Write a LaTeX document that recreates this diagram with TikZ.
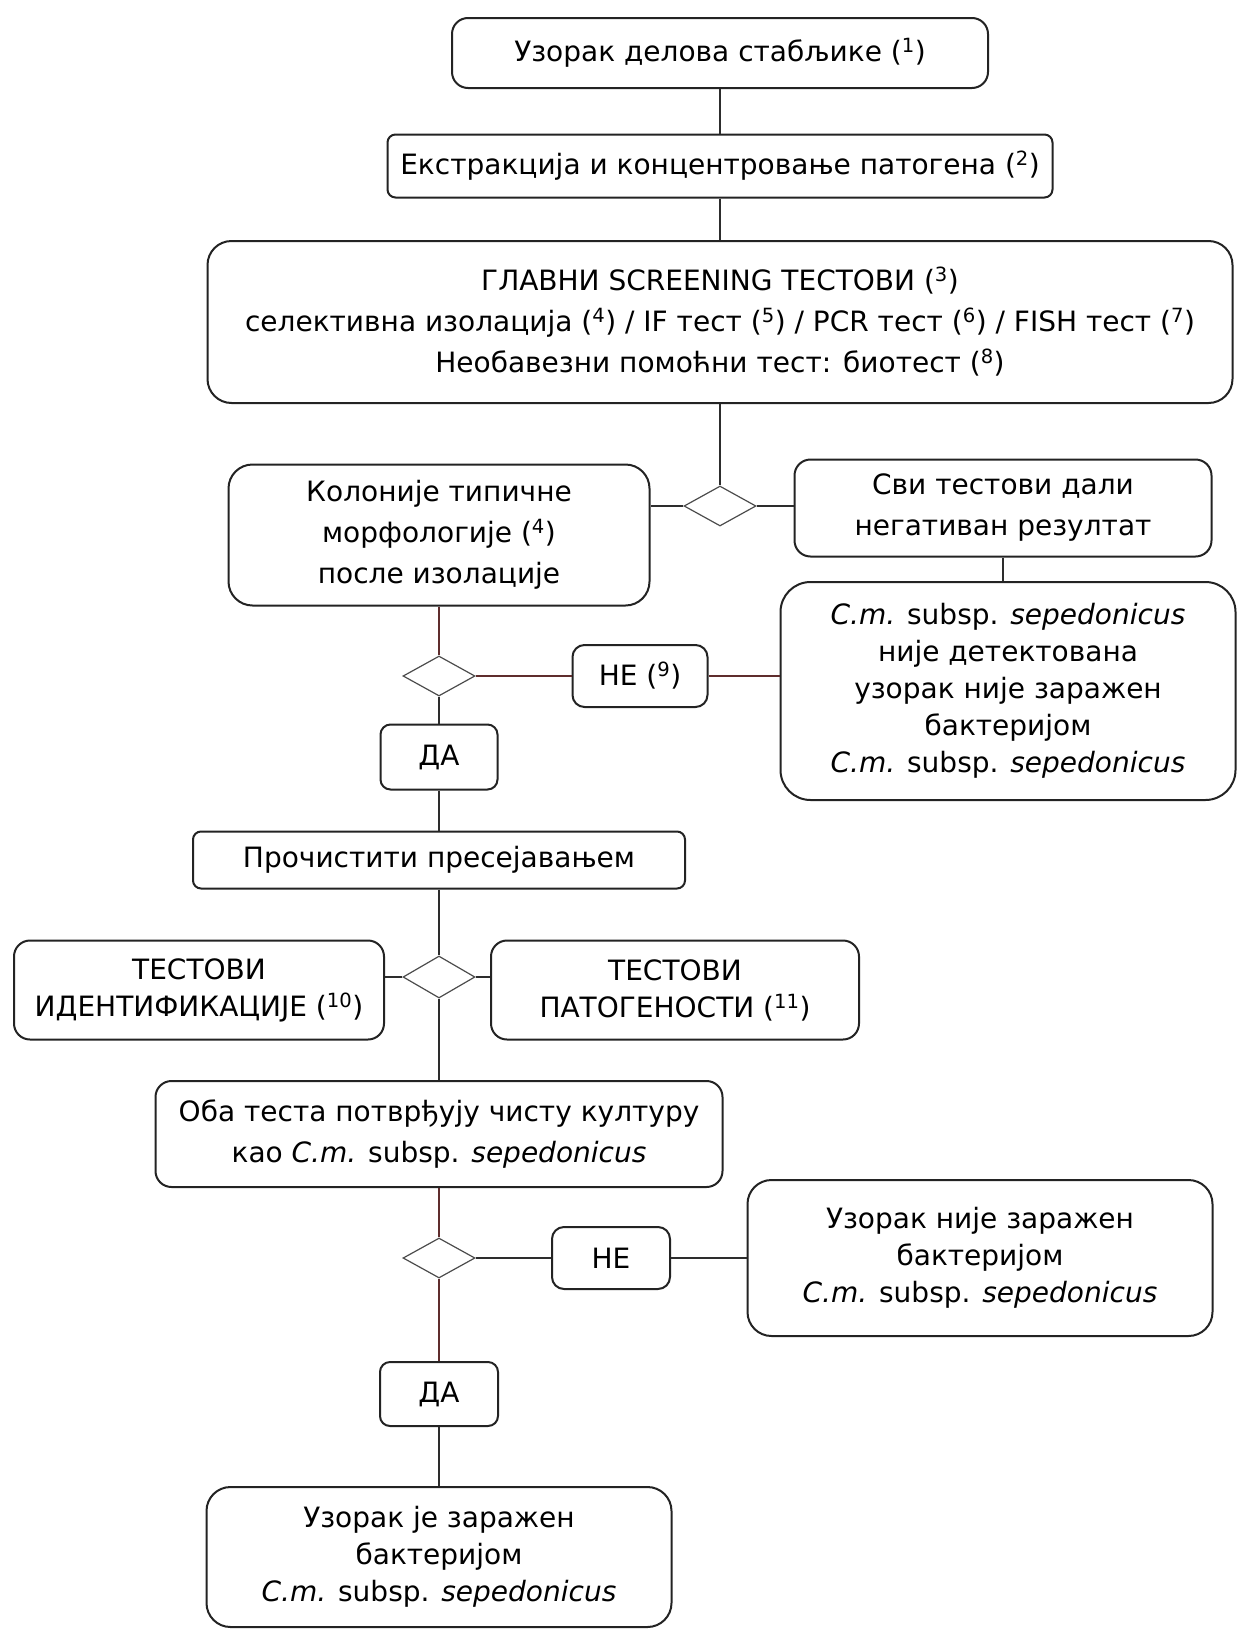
\documentclass[tikz,border=0pt]{standalone}
\usepackage{fontspec}
\setmainfont{DejaVu Sans}
\usetikzlibrary{shapes.geometric}
\definecolor{boxc}{RGB}{35,35,35}
\definecolor{lnk}{RGB}{45,45,45}
\definecolor{lnr}{RGB}{95,45,45}
\newcommand\cmsub{\textit{C.m.} subsp. \textit{sepedonicus}}
\newcommand\fnt[1]{(\textsuperscript{#1})}
\tikzset{
  box/.style={draw=boxc, line width=2pt, rounded corners=16pt, fill=white,
    align=center, inner sep=0pt, font=\fontsize{28}{41}\selectfont},
  tight/.style={font=\fontsize{28}{37}\selectfont},
  dia/.style={draw=black!70, line width=1.2pt, diamond, fill=white, inner sep=0pt,
    minimum width=72pt, minimum height=40pt},
  conn/.style={draw=lnk, line width=1.3pt},
  connr/.style={draw=lnr, line width=1.3pt}
}
\begin{document}
\begin{tikzpicture}[x=1pt, y=-1pt]
\useasboundingbox (0,0) rectangle (1237,1630);
% top chain
\node[box, minimum width=536pt, minimum height=70pt] (b1) at (720,53) {Узорак делова стабљике \fnt{1}};
\node[box, minimum width=665pt, minimum height=63pt, rounded corners=8pt] (b2) at (720,166) {Екстракција и концентровање патогена \fnt{2}};
\node[box, minimum width=1025pt, minimum height=162pt, rounded corners=24pt] (b3) at (720,322)
  {ГЛАВНИ SCREENING ТЕСТОВИ \fnt{3}\\
   селективна изолација \fnt{4} / IF тест \fnt{5} / PCR тест \fnt{6} / FISH тест \fnt{7}\\
   Необавезни помоћни тест: биотест \fnt{8}};
\node[dia] (d1) at (720,506) {};
\node[box, minimum width=421pt, minimum height=141pt, rounded corners=24pt] (bL) at (439,535)
  {Колоније типичне\\морфологије \fnt{4}\\после изолације};
\node[box, minimum width=417pt, minimum height=97pt] (bR) at (1003,508)
  {Сви тестови дали\\негативан резултат};
\node[box, tight, minimum width=455pt, minimum height=218pt, rounded corners=30pt] (nr) at (1008,691)
  {\cmsub\\није детектована\\узорак није заражен\\бактеријом\\\cmsub};
% left branch
\node[dia] (d2) at (439,676) {};
\node[box, minimum width=135pt, minimum height=62pt, rounded corners=12pt] (he1) at (640,676) {НЕ \fnt{9}};
\node[box, minimum width=117pt, minimum height=65pt, rounded corners=10pt] (da1) at (439,757) {ДА};
\node[box, minimum width=492pt, minimum height=57pt, rounded corners=8pt] (pur) at (439,860) {Прочистити пресејавањем};
\node[dia, minimum height=42pt] (d3) at (439,977) {};
\node[box, tight, minimum width=370pt, minimum height=99pt] (idt) at (199,990)
  {ТЕСТОВИ\\ИДЕНТИФИКАЦИЈЕ \fnt{10}};
\node[box, tight, minimum width=368pt, minimum height=99pt] (pat) at (675,990)
  {ТЕСТОВИ\\ПАТОГЕНОСТИ \fnt{11}};
\node[box, minimum width=567pt, minimum height=106pt] (both) at (439,1134)
  {Оба теста потврђују чисту културу\\као \cmsub};
\node[dia] (d4) at (439,1258) {};
\node[box, minimum width=118pt, minimum height=62pt, rounded corners=12pt] (he2) at (611,1258) {НЕ};
\node[box, tight, minimum width=465pt, minimum height=156pt, rounded corners=24pt] (ni) at (980,1258)
  {Узорак није заражен\\бактеријом\\\cmsub};
\node[box, minimum width=118pt, minimum height=64pt, rounded corners=10pt] (da2) at (439,1394) {ДА};
\node[box, tight, minimum width=465pt, minimum height=140pt, rounded corners=24pt] (fin) at (439,1557)
  {Узорак је заражен\\бактеријом\\\cmsub};
% connectors
\draw[conn] (b1.south) -- (b2.north);
\draw[conn] (b2.south) -- (b3.north);
\draw[conn] (b3.south) -- (d1.north);
\draw[conn] (d1.west) -- (bL.east |- d1.west);
\draw[conn] (d1.east) -- (bR.west |- d1.east);
\draw[conn] (bR.south) -- (bR.south |- nr.north);
\draw[connr] (bL.south) -- (d2.north);
\draw[connr] (d2.east) -- (he1.west);
\draw[connr] (he1.east) -- (nr.west |- he1.east);
\draw[conn] (d2.south) -- (da1.north);
\draw[conn] (da1.south) -- (pur.north);
\draw[conn] (pur.south) -- (d3.north);
\draw[conn] (d3.west) -- (idt.east |- d3.west);
\draw[conn] (d3.east) -- (pat.west |- d3.east);
\draw[conn] (d3.south) -- (both.north);
\draw[connr] (both.south) -- (d4.north);
\draw[conn] (d4.east) -- (he2.west);
\draw[conn] (he2.east) -- (ni.west |- he2.east);
\draw[connr] (d4.south) -- (da2.north);
\draw[conn] (da2.south) -- (fin.north);
\end{tikzpicture}
\end{document}
